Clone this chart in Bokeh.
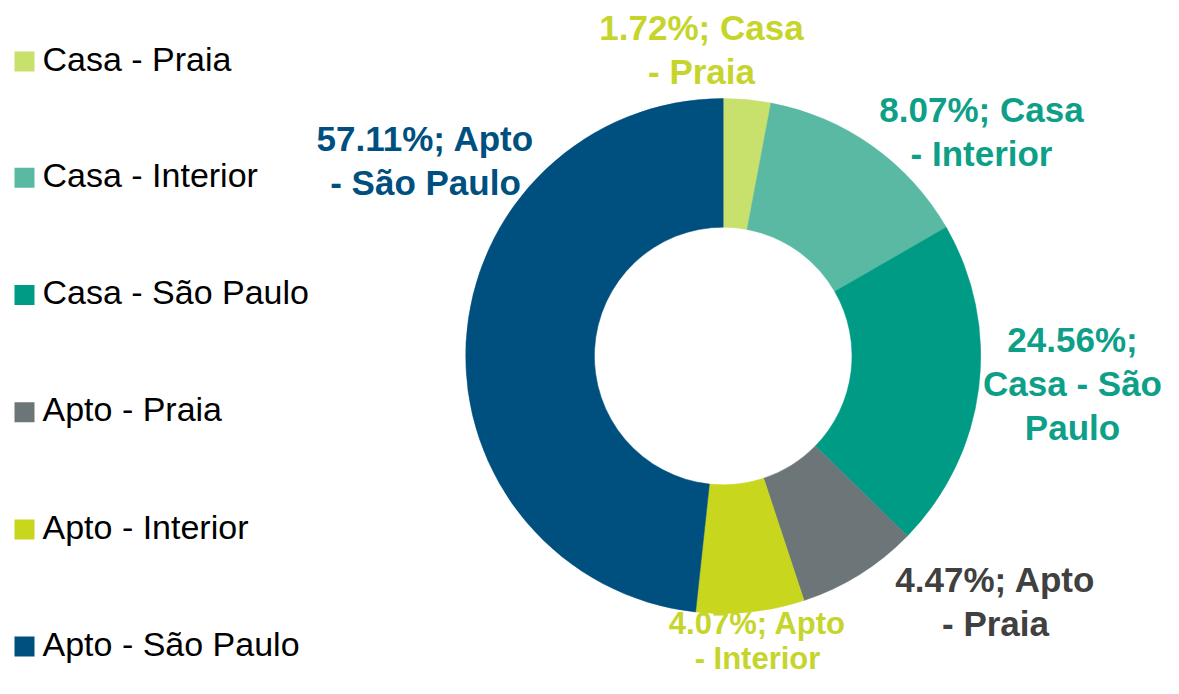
import math
from bokeh.plotting import figure
from bokeh.models import Range1d, ColumnDataSource
from bokeh.core.properties import value
from bokeh.embed import file_html
from bokeh.resources import INLINE

# ---- data ----
categories = ["Casa - Praia", "Casa - Interior", "Casa - São Paulo",
              "Apto - Praia", "Apto - Interior", "Apto - São Paulo"]
# slice sizes as drawn in the picture (share of the ring, %)
slice_values = [2.97, 13.70, 20.64, 7.61, 6.79, 48.29]
# percentages printed in the data labels
label_pct = ["1.72%", "8.07%", "24.56%", "4.47%", "4.07%", "57.11%"]
# how each data label is broken into lines
label_lines = [
    ["1.72%; Casa", "- Praia"],
    ["8.07%; Casa", "- Interior"],
    ["24.56%;", "Casa - São", "Paulo"],
    ["4.47%; Apto", "- Praia"],
    ["4.07%; Apto", "- Interior"],
    ["57.11%; Apto", "- São Paulo"],
]

# ---- styles / layout ----
slice_colors = ["#C8E06C", "#59B9A3", "#009B85", "#6C7679", "#C8D61E", "#00507F"]
label_colors = ["#C5D52C", "#0E9F88", "#0E9F88", "#404040", "#C5D52C", "#00507F"]

W, H = 1163, 678
TXT_SHIFT = 13.5  # empirical correction of text baseline placement

def X(px):
    return px

def Y(py):
    return H - py

cx, cy = 722.7, 355.5
R_OUT, R_IN = 257.5, 128.8

p = figure(width=W, height=H, output_backend="svg", toolbar_location=None,
           x_range=Range1d(0, W), y_range=Range1d(0, H), min_border=0)
p.axis.visible = False
p.grid.visible = False
p.outline_line_color = None
p.background_fill_color = "white"
p.border_fill_color = "white"

# ---- donut ----
total = sum(slice_values)
starts, ends = [], []
cum = 0.0
for v in slice_values:
    a0 = math.pi / 2 - 2 * math.pi * cum / total
    cum += v
    a1 = math.pi / 2 - 2 * math.pi * cum / total
    starts.append(a1)
    ends.append(a0)

src = ColumnDataSource(dict(x=[X(cx)] * len(categories), y=[Y(cy)] * len(categories),
                            start=starts, end=ends, color=slice_colors, cat=categories))
p.annular_wedge(x="x", y="y", inner_radius=R_IN, outer_radius=R_OUT,
                start_angle="start", end_angle="end", fill_color="color",
                line_color="color", line_width=0.5, source=src)

# ---- data labels ----
# first-line baseline (screen px from top), line step, font size
label_anchor = [(701, 40.5), (981, 122.5), (1072, 352.5), (995, 592.5), (757, 636.5), (425, 151.5)]
label_step = [44, 44, 44, 44, 35, 44]
label_fs = [35, 35, 35, 35, 31, 35]
lx, ly, lt, lc, lf = [], [], [], [], []
for i, lines in enumerate(label_lines):
    ax, ay = label_anchor[i]
    for j, t in enumerate(lines):
        lx.append(X(ax))
        ly.append(Y(ay + j * label_step[i] - TXT_SHIFT))
        lt.append(t)
        lc.append(label_colors[i])
        lf.append(f"{label_fs[i]}px")
p.text(x=lx, y=ly, text=lt, text_color=lc, text_align="center",
       text_baseline="alphabetic", text_font=value("Liberation Sans"),
       text_font_style="bold", text_font_size=lf)

# ---- legend ----
leg_y = [61, 177.3, 294.5, 411.7, 529, 646]
sq_x = 24
p.rect(x=[X(sq_x)] * 6, y=[Y(v) for v in leg_y], width=20, height=20,
       fill_color=slice_colors, line_color=None)
p.text(x=[X(42)] * 6, y=[Y(v + 10.5 - TXT_SHIFT) for v in leg_y], text=categories,
       text_color="black", text_align="left", text_baseline="alphabetic",
       text_font=value("Liberation Sans"), text_font_size="34px")

open("out.html", "w").write(file_html(p, INLINE))
